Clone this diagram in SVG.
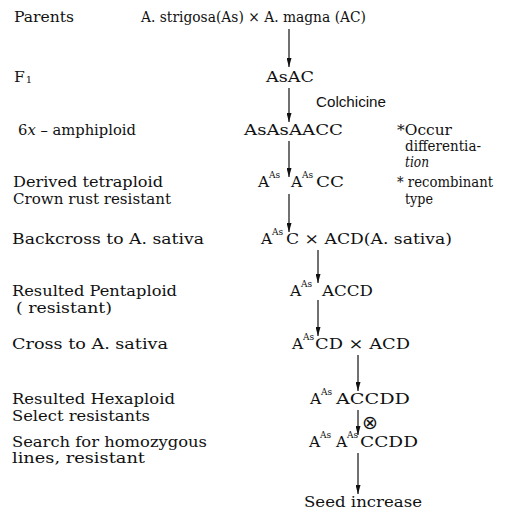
<svg xmlns="http://www.w3.org/2000/svg" width="511" height="514" viewBox="0 0 511 514">
<style>
text{font-family:"DejaVu Serif","Liberation Serif",serif;font-size:15.5px;fill:#111}
.sup{font-size:9px}
.sans{font-family:"Liberation Sans",Arial,sans-serif;font-size:15px}
.it{font-style:italic}
.conn line{stroke:#111;stroke-width:1.2}
</style>
<defs>
<marker id="ah" markerUnits="userSpaceOnUse" markerWidth="9" markerHeight="5" refX="9" refY="2.5" orient="auto">
<path d="M0,0 L9,2.5 L0,5 z" fill="#111"/>
</marker>
</defs>
<g id="labels">
<text x="14" y="22" textLength="60" lengthAdjust="spacingAndGlyphs">Parents</text>
<text x="14" y="82">F<tspan font-size="10" dx="1" dy="1">1</tspan></text>
<text x="18" y="135" textLength="118" lengthAdjust="spacingAndGlyphs">6<tspan class="it">x</tspan> – amphiploid</text>
<text x="13" y="187" textLength="150" lengthAdjust="spacingAndGlyphs">Derived tetraploid</text>
<text x="13" y="204" textLength="158" lengthAdjust="spacingAndGlyphs">Crown rust resistant</text>
<text x="12" y="244" textLength="192" lengthAdjust="spacingAndGlyphs">Backcross to A. sativa</text>
<text x="12" y="296" textLength="165" lengthAdjust="spacingAndGlyphs">Resulted Pentaploid</text>
<text x="16" y="313" textLength="96" lengthAdjust="spacingAndGlyphs">( resistant)</text>
<text x="12" y="349" textLength="156" lengthAdjust="spacingAndGlyphs">Cross to A. sativa</text>
<text x="12" y="404" textLength="163" lengthAdjust="spacingAndGlyphs">Resulted Hexaploid</text>
<text x="12" y="421" textLength="138" lengthAdjust="spacingAndGlyphs">Select resistants</text>
<text x="12" y="447" textLength="195" lengthAdjust="spacingAndGlyphs">Search for homozygous</text>
<text x="12" y="463" textLength="133" lengthAdjust="spacingAndGlyphs">lines, resistant</text>
</g>
<g id="parents"><text x="141" y="22" textLength="225" lengthAdjust="spacingAndGlyphs">A. strigosa(As) × A. magna (AC)</text></g>
<g id="f1"><text x="266" y="82" textLength="48" lengthAdjust="spacingAndGlyphs">AsAC</text></g>
<g id="colchicine"><text class="sans" x="316" y="107" textLength="70" lengthAdjust="spacingAndGlyphs">Colchicine</text></g>
<g id="amphiploid"><text x="244" y="135" textLength="99" lengthAdjust="spacingAndGlyphs">AsAsAACC</text></g>
<g id="note">
<text x="397" y="135" textLength="55" lengthAdjust="spacingAndGlyphs">*Occur</text>
<text x="405" y="151" textLength="76" lengthAdjust="spacingAndGlyphs">differentia-</text>
<text class="it" x="405" y="167" textLength="24" lengthAdjust="spacingAndGlyphs">tion</text>
<text x="397" y="187" textLength="96" lengthAdjust="spacingAndGlyphs">* recombinant</text>
<text x="405" y="204" textLength="28" lengthAdjust="spacingAndGlyphs">type</text>
</g>
<g id="tetraploid">
<text x="258" y="187">A</text><text class="sup" x="269" y="178">As</text>
<text x="291" y="187">A</text><text class="sup" x="302" y="178">As</text>
<text x="316" y="187" textLength="28" lengthAdjust="spacingAndGlyphs">CC</text>
</g>
<g id="backcross">
<text x="261" y="244">A</text><text class="sup" x="272" y="235">As</text>
<text x="286" y="244" textLength="166" lengthAdjust="spacingAndGlyphs">C × ACD(A. sativa)</text>
</g>
<g id="pentaploid">
<text x="290" y="296">A</text><text class="sup" x="301" y="287">As</text>
<text x="322" y="296" textLength="51" lengthAdjust="spacingAndGlyphs">ACCD</text>
</g>
<g id="cross">
<text x="292" y="349">A</text><text class="sup" x="303" y="340">As</text>
<text x="315" y="349" textLength="95" lengthAdjust="spacingAndGlyphs">CD × ACD</text>
</g>
<g id="hexaploid">
<text x="310" y="404">A</text><text class="sup" x="321" y="395">As</text>
<text x="336" y="404" textLength="74" lengthAdjust="spacingAndGlyphs">ACCDD</text>
</g>
<g id="homozygous">
<text x="309" y="447">A</text><text class="sup" x="320" y="438">As</text>
<text x="336" y="447">A</text><text class="sup" x="347" y="438">As</text>
<text x="360" y="447" textLength="58" lengthAdjust="spacingAndGlyphs">CCDD</text>
</g>
<g id="seed"><text x="304" y="507" textLength="118" lengthAdjust="spacingAndGlyphs">Seed increase</text></g>
<g id="connectors" class="conn">
<line x1="289" y1="29" x2="289" y2="67" marker-end="url(#ah)"/>
<line x1="289" y1="88" x2="289" y2="122" marker-end="url(#ah)"/>
<line x1="289" y1="141" x2="289" y2="177" marker-end="url(#ah)"/>
<line x1="289" y1="194" x2="289" y2="232" marker-end="url(#ah)"/>
<line x1="318" y1="250" x2="318" y2="283" marker-end="url(#ah)"/>
<line x1="318" y1="300" x2="318" y2="336" marker-end="url(#ah)"/>
<line x1="358" y1="355" x2="358" y2="391" marker-end="url(#ah)"/>
<line x1="358" y1="410" x2="358" y2="435" marker-end="url(#ah)"/>
<line x1="358" y1="453" x2="358" y2="494" marker-end="url(#ah)"/>
<text x="362" y="429" style="font-family:'DejaVu Sans',sans-serif;font-size:19px">⊗</text>
</g>
</svg>
